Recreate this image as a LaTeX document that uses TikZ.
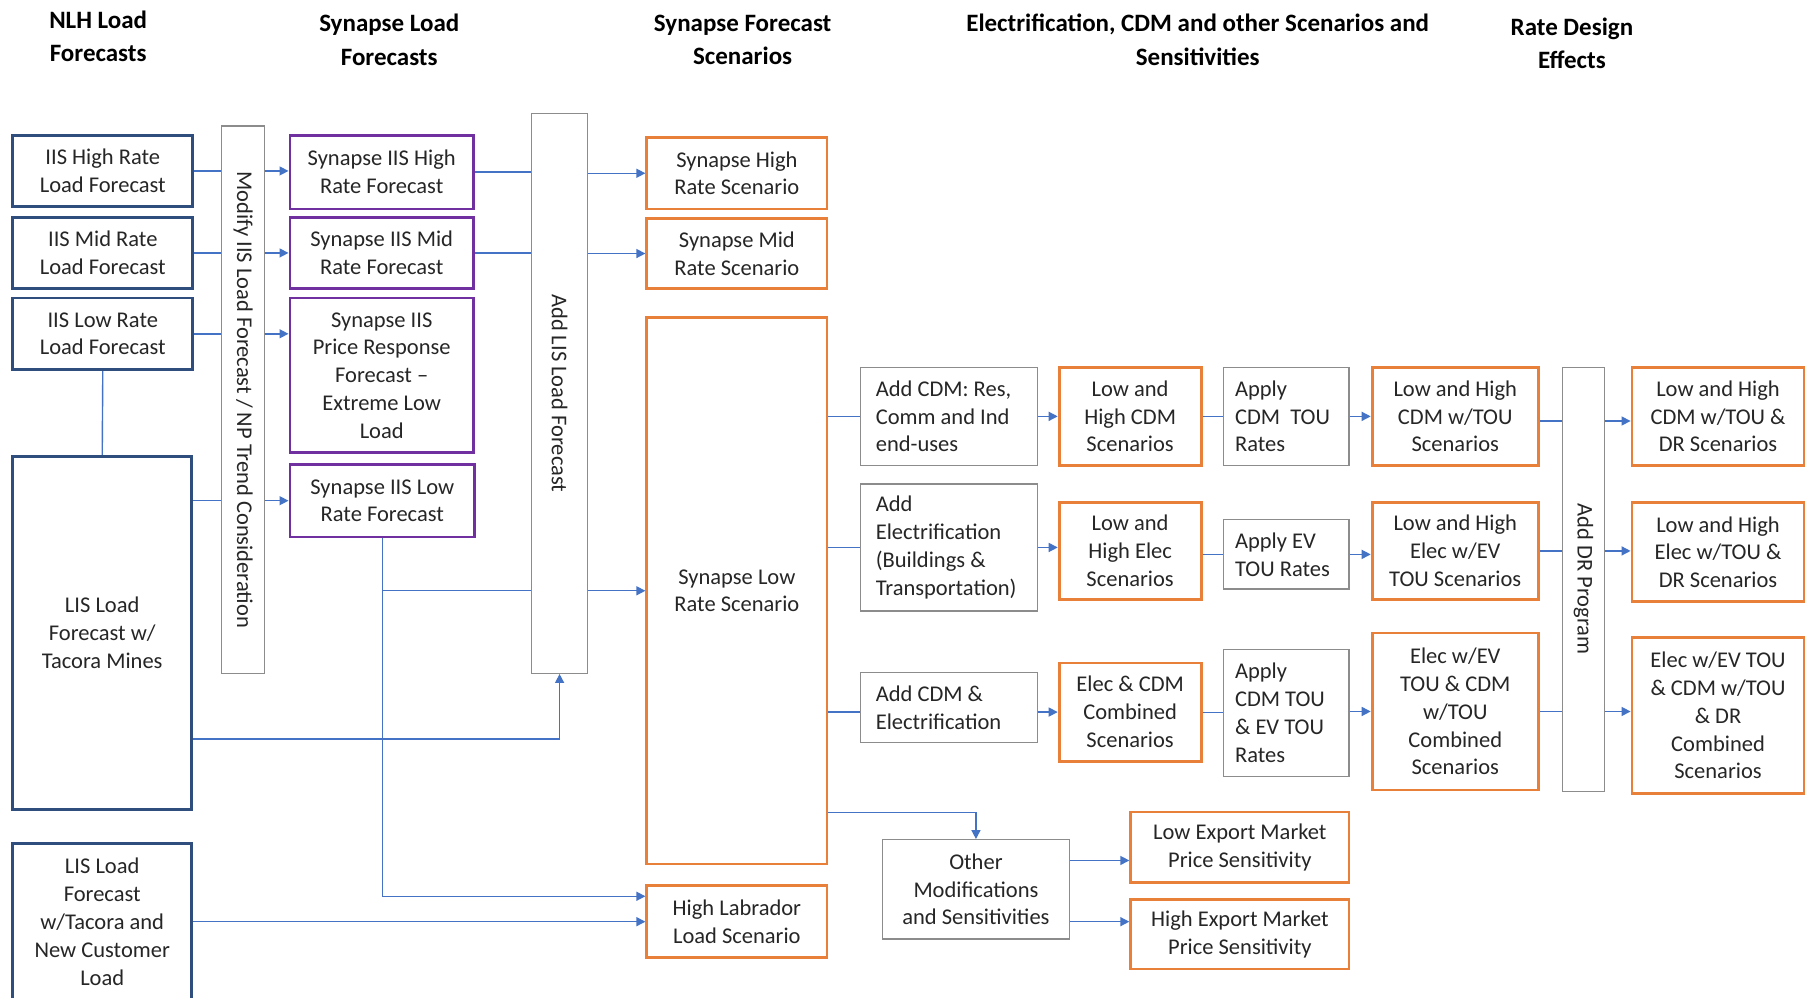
\documentclass[tikz,border=0pt]{standalone}
\usepackage{fontspec}
\setmainfont{Carlito}
\usetikzlibrary{calc,arrows.meta}
\definecolor{navy}{HTML}{2F4E7E}
\definecolor{purp}{HTML}{7030A0}
\definecolor{orng}{HTML}{E8803A}
\definecolor{grayb}{HTML}{8C8C8C}
\definecolor{conncol}{HTML}{4472C4}
\begin{document}
\begin{tikzpicture}[x=0.5775pt,y=-0.5775pt,
  bx/.style n args={4}{minimum width={(#3-#1)*0.5775pt}, minimum height={(#4-#2)*0.5775pt}, at={(#1/2+#3/2,#2/2+#4/2)}},
  box/.style={draw, inner sep=0pt, align=center, font=\fontsize{11.25}{13.9}\selectfont, text=black!85},
  bbox/.style={box, draw=navy, line width=1.4pt},
  pbox/.style={box, draw=purp, line width=1.4pt},
  obox/.style={box, draw=orng, line width=1.4pt},
  gbox/.style={box, draw=grayb, line width=0.6pt},
  lgbox/.style={gbox, align=flush left, text width=73pt},
  apbox/.style={gbox, align=flush left, text width=51pt},
  conn/.style={draw=conncol, line width=0.7pt},
  carr/.style={conn, -{Triangle[length=4.5pt,width=4.5pt]}},
  hd/.style={font=\fontsize{12.5}{16.7}\selectfont\bfseries, align=center}]
\clip (0,0) rectangle (1568,864);
\fill[white] (0,0) rectangle (1568,864);

% headers
\node[hd] (h1) at (85,31.5) {NLH Load\\Forecasts};
\node[hd] (h2) at (337,34.5) {Synapse Load\\Forecasts};
\node[hd] (h3) at (643,34.5) {Synapse Forecast\\Scenarios};
\node[hd] (h4) at (1037,34.5) {Electrification, CDM and other Scenarios and\\Sensitivities};
\node[hd] (h5) at (1361,37.5) {Rate Design\\Effects};

% column 1
\node[bbox, bx={11}{117}{167}{179}] (iish) {IIS High Rate\\Load Forecast};
\node[bbox, bx={11}{188}{167}{250}] (iism) {IIS Mid Rate\\Load Forecast};
\node[bbox, bx={11}{258}{167}{320}] (iisl) {IIS Low Rate\\Load Forecast};
\node[bbox, bx={11}{395}{166}{701}] (listac) {LIS Load\\Forecast w/\\Tacora Mines};
\node[bbox, bx={11}{730}{166}{866}] (lisnew) {LIS Load\\Forecast\\w/Tacora and\\New Customer\\Load};

\node[gbox, bx={192}{109}{229}{583}] (mod) {\rotatebox{-90}{Modify IIS Load Forecast / NP Trend Consideration}};

% synapse load forecasts
\node[pbox, bx={251}{117}{410}{181}] (synh) {Synapse IIS High\\Rate Forecast};
\node[pbox, bx={251}{188}{410}{250}] (synm) {Synapse IIS Mid\\Rate Forecast};
\node[pbox, bx={251}{258}{410}{392}] (synp) {Synapse IIS\\Price Response\\Forecast –\\Extreme Low\\Load};
\node[pbox, bx={251}{402}{411}{465}] (synl) {Synapse IIS Low\\Rate Forecast};

\node[gbox, bx={460}{98}{509}{583}] (addlis) {\rotatebox{-90}{Add LIS Load Forecast}};

% synapse scenarios
\node[obox, bx={560}{119}{716}{181}] (shigh) {Synapse High\\Rate Scenario};
\node[obox, bx={560}{189}{716}{250}] (smid) {Synapse Mid\\Rate Scenario};
\node[obox, bx={560}{275}{716}{748}] (slow) {Synapse Low\\Rate Scenario};
\node[obox, bx={560}{767}{716}{829}] (hlab) {High Labrador\\Load Scenario};

% electrification etc.
\node[lgbox, bx={745}{318}{898}{403}] (cdm) {Add CDM: Res,\\Comm and Ind\\end-uses};
\node[lgbox, bx={745}{419}{898}{529}] (elec) {Add\\Electrification\\(Buildings \&\\Transportation)};
\node[lgbox, bx={745}{582}{898}{643}] (cdmel) {Add CDM \&\\Electrification};
\node[gbox, bx={764}{727}{926}{813}] (other) {Other\\Modifications\\and Sensitivities};

\node[obox, bx={917}{318}{1040}{403}] (lhcdm) {Low and\\High CDM\\Scenarios};
\node[obox, bx={917}{435}{1040}{519}] (lhe) {Low and\\High Elec\\Scenarios};
\node[obox, bx={917}{574}{1040}{659}] (ec) {Elec \& CDM\\Combined\\Scenarios};

\node[apbox, bx={1059}{318}{1168}{403}] (apcdm) {Apply\\CDM\ \ TOU\\Rates};
\node[apbox, bx={1059}{450}{1168}{510}] (apev) {Apply EV\\TOU Rates};
\node[apbox, bx={1059}{562}{1168}{672}] (apb) {Apply\\CDM TOU\\\& EV TOU\\Rates};

\node[obox, bx={1188}{318}{1332}{403}] (lhcdmt) {Low and High\\CDM w/TOU\\Scenarios};
\node[obox, bx={1188}{435}{1332}{519}] (lhet) {Low and High\\Elec w/EV\\TOU Scenarios};
\node[obox, bx={1188}{548}{1332}{684}] (ect) {Elec w/EV\\TOU \& CDM\\w/TOU\\Combined\\Scenarios};

\node[gbox, bx={1353}{318}{1389}{685}] (adddr) {\rotatebox{-90}{Add DR Program}};

\node[obox, bx={1413}{318}{1562}{403}] (fcdm) {Low and High\\CDM w/TOU \&\\DR Scenarios};
\node[obox, bx={1413}{435}{1562}{521}] (felec) {Low and High\\Elec w/TOU \&\\DR Scenarios};
\node[obox, bx={1413}{552}{1562}{687}] (fcomb) {Elec w/EV TOU\\\& CDM w/TOU\\\& DR\\Combined\\Scenarios};

\node[obox, bx={979}{703}{1168}{764}] (lowx) {Low Export Market\\Price Sensitivity};
\node[obox, bx={979}{779}{1168}{839}] (highx) {High Export Market\\Price Sensitivity};

% connectors: left part
\draw[conn] (iish.east) -- (iish.east -| mod.west);
\draw[carr] (mod.east |- iish.east) -- (synh.west |- iish.east);
\draw[conn] (iism.east) -- (iism.east -| mod.west);
\draw[carr] (mod.east |- iism.east) -- (synm.west |- iism.east);
\draw[conn] (iisl.east) -- (iisl.east -| mod.west);
\draw[carr] (mod.east |- iisl.east) -- (synp.west |- iisl.east);
\draw[conn] (iisl.south) -- (listac.north);
\draw[conn] (listac.east |- synl.west) -- (mod.west |- synl.west);
\draw[carr] (mod.east |- synl.west) -- (synl.west);
\draw[conn] (synh.east) -- (synh.east -| addlis.west);
\draw[carr] (addlis.east |- shigh.west) -- (shigh.west);
\draw[conn] (synm.east) -- (synm.east -| addlis.west);
\draw[carr] (addlis.east |- smid.west) -- (smid.west);
\draw[conn] (synl.south) |- (addlis.west |- slow.west);
\draw[carr] (addlis.east |- slow.west) -- (slow.west);
\coordinate (hl1) at ($(hlab.west)+(0,-22)$);
\draw[carr] (synl.south) |- (hl1);
\coordinate (lt1) at ($(listac.east)+(0,92)$);
\draw[carr] (lt1) -| (addlis.south);
\draw[carr] (lisnew.east) -- (lisnew.east -| hlab.west);

% connectors: right part
\draw[conn] (slow.east |- cdm.west) -- (cdm.west);
\draw[conn] (slow.east |- elec.west) -- (elec.west);
\draw[conn] (slow.east |- ec.west) -- (ec.west -| cdmel.west);
\draw[carr] (cdm.east) -- (lhcdm.west);
\draw[carr] (elec.east) -- (elec.east -| lhe.west);
\draw[carr] (cdmel.east |- ec.west) -- (ec.west);
\draw[conn] (lhcdm.east) -- (apcdm.west);
\draw[conn] (lhe.east |- apev.west) -- (apev.west);
\draw[conn] (ec.east |- apb.west) -- (apb.west);
\draw[carr] (apcdm.east) -- (lhcdmt.west);
\draw[carr] (apev.east) -- (apev.east -| lhet.west);
\draw[carr] (apb.east |- ect.west) -- (ect.west);
\coordinate (dr1) at ($(lhcdmt.east)+(0,4)$);
\draw[conn] (dr1) -- (dr1 -| adddr.west);
\draw[conn] (lhet.east) -- (lhet.east -| adddr.west);
\draw[conn] (ect.east) -- (ect.east -| adddr.west);
\draw[carr] (adddr.east |- dr1) -- (fcdm.west |- dr1);
\draw[carr] (adddr.east |- lhet.east) -- (felec.west |- lhet.east);
\draw[carr] (adddr.east |- ect.east) -- (fcomb.west |- ect.east);
\coordinate (sl1) at ($(slow.south east)+(0,-46)$);
\draw[carr] (sl1) -| (other.north);
\coordinate (o1) at ($(other.east)+(0,-25)$);
\coordinate (o2) at ($(other.east)+(0,28)$);
\draw[carr] (o1) -- (o1 -| lowx.west);
\draw[carr] (o2) -- (o2 -| highx.west);
\end{tikzpicture}
\end{document}
